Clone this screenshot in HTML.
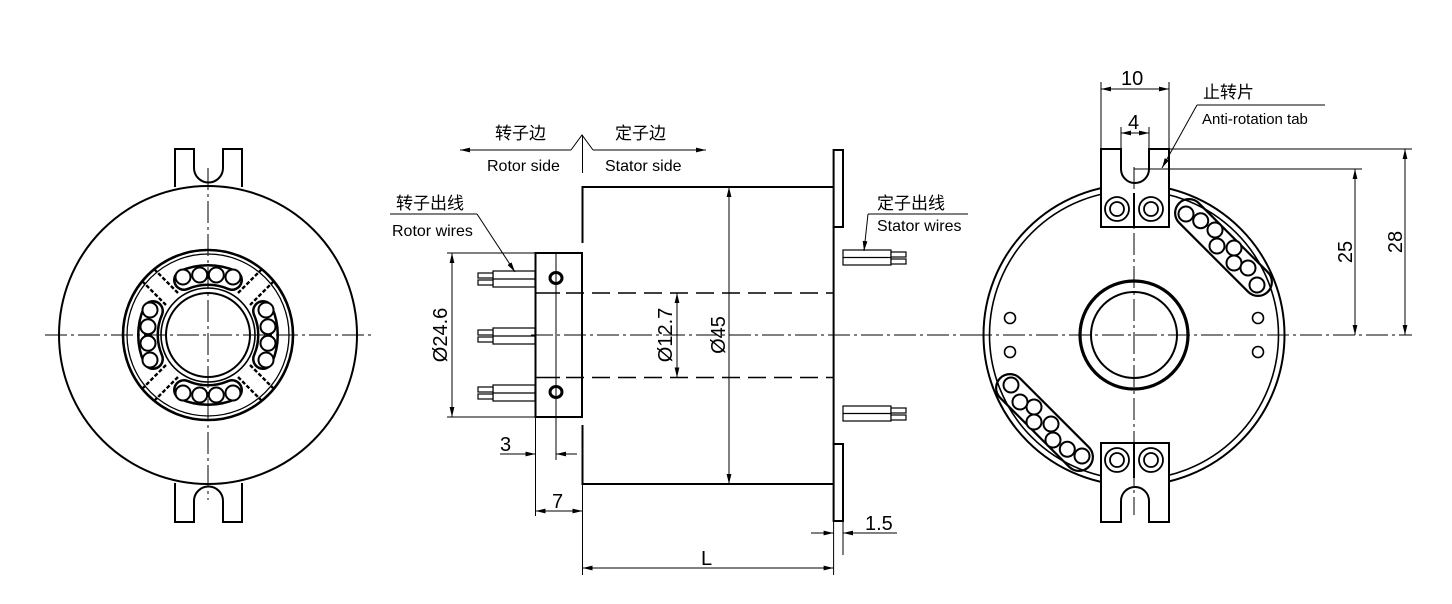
<!DOCTYPE html>
<html><head><meta charset="utf-8"><style>
html,body{margin:0;padding:0;background:#fff}
svg{display:block}
text{font-family:"Liberation Sans","Noto Sans CJK SC",sans-serif;fill:#000}
</style></head><body>
<svg width="1452" height="604" viewBox="0 0 1452 604" xmlns="http://www.w3.org/2000/svg">
<defs>
<marker id="a" viewBox="0 0 10 6" refX="10" refY="3" markerWidth="10" markerHeight="6" orient="auto-start-reverse" markerUnits="userSpaceOnUse"><path d="M0,0.6 L10,3 L0,5.4 z" fill="#000"/></marker>
</defs>
<g fill="none" stroke="#000">

<!-- ============ LEFT VIEW ============ -->
<g stroke-width="2">
<path d="M175,187 V149 H194 V168 A14.5,14.5 0 0 0 223,168 V149 H242 V187" fill="#fff"/>
<path d="M175,483 V522 H194 V501 A14.5,14.5 0 0 1 223,501 V522 H242 V483" fill="#fff"/>
<circle cx="208" cy="335" r="149" />
<circle cx="208" cy="335" r="85" stroke-width="2.6"/>
<circle cx="208" cy="335" r="81" stroke-width="1.3"/>
<circle cx="208" cy="335" r="47" stroke-width="1.6"/>
<circle cx="208" cy="335" r="42" stroke-width="2"/>
</g>
<g stroke-width="2.4" stroke-dasharray="4,2">
<g transform="translate(208,335)">
<g id="ds"><line x1="30" y1="-42" x2="55" y2="-67"/><line x1="42" y1="-30" x2="67" y2="-55"/></g>
<use href="#ds" transform="rotate(90)"/><use href="#ds" transform="rotate(180)"/><use href="#ds" transform="rotate(270)"/>
</g></g>
<g transform="translate(208,335)">
<g id="bs">
<path d="M-24,-55 A60,60 0 0 1 24,-55" stroke-width="22" stroke-linecap="round"/>
<path d="M-24,-55 A60,60 0 0 1 24,-55" stroke="#fff" stroke-width="17" stroke-linecap="round"/>
<g stroke-width="2" fill="#fff">
<circle cx="-25" cy="-58" r="7.5"/><circle cx="-8.3" cy="-60" r="7.5"/><circle cx="8.3" cy="-60" r="7.5"/><circle cx="25" cy="-58" r="7.5"/>
</g></g>
<use href="#bs" transform="rotate(90)"/><use href="#bs" transform="rotate(180)"/><use href="#bs" transform="rotate(270)"/>
</g>
<g stroke-width="1" stroke-dasharray="22,4,3,4">
<line x1="45" y1="335" x2="372" y2="335"/>
<line x1="208" y1="168" x2="208" y2="500"/>
</g>

<!-- ============ MIDDLE VIEW ============ -->
<g stroke-width="2">
<path d="M582.5,243 V187 H833.6"/>
<path d="M582.5,425 V484 H833.6"/>
<rect x="833.6" y="150" width="9.4" height="77" fill="#fff"/>
<rect x="833.6" y="444" width="9.4" height="77" fill="#fff"/>
<line x1="833.6" y1="227" x2="833.6" y2="444"/>
<rect x="535.5" y="253" width="46.5" height="164"/>
</g>
<g stroke-width="1.4">
<line x1="535.5" y1="293" x2="560" y2="293"/><line x1="535.5" y1="377.5" x2="560" y2="377.5"/>
</g>
<g stroke-width="1.4" stroke-dasharray="18,8">
<line x1="566" y1="293" x2="833" y2="293"/><line x1="566" y1="377.5" x2="833" y2="377.5"/>
</g>
<g stroke-width="3"><ellipse cx="556" cy="278" rx="6" ry="5.5"/><ellipse cx="556" cy="392" rx="6" ry="5.5"/></g>
<line x1="556" y1="253" x2="556" y2="460" stroke-width="1"/>
<g stroke-width="1.2" fill="#fff">
<g id="rw">
<rect x="493" y="271" width="42" height="16"/><line x1="493" y1="279" x2="535" y2="279"/>
<rect x="478" y="273" width="15" height="5"/><rect x="478" y="280" width="15" height="5"/>
</g>
<use href="#rw" transform="translate(0,57)"/><use href="#rw" transform="translate(0,114)"/>
<g id="sw">
<rect x="843" y="250" width="48" height="15"/><line x1="843" y1="257.5" x2="891" y2="257.5"/>
<rect x="891" y="252" width="15" height="5"/><rect x="891" y="259" width="15" height="5"/>
</g>
<use href="#sw" transform="translate(0,156)"/>
</g>
<line x1="531" y1="335" x2="981" y2="335" stroke-width="1" stroke-dasharray="22,4,3,4"/>
<g stroke-width="1">
<line x1="447" y1="253" x2="535" y2="253"/><line x1="447" y1="417" x2="535" y2="417"/>
<line x1="452" y1="253" x2="452" y2="417" marker-start="url(#a)" marker-end="url(#a)"/>
<line x1="677" y1="293" x2="677" y2="377.5" marker-start="url(#a)" marker-end="url(#a)"/>
<line x1="729" y1="187" x2="729" y2="484" marker-start="url(#a)" marker-end="url(#a)"/>
<line x1="535.5" y1="417" x2="535.5" y2="516"/>
<line x1="582.5" y1="484" x2="582.5" y2="575"/>
<line x1="500" y1="454" x2="535.5" y2="454" marker-end="url(#a)"/>
<line x1="577" y1="454" x2="556" y2="454" marker-end="url(#a)"/>
<line x1="535.5" y1="511" x2="582.5" y2="511" marker-start="url(#a)" marker-end="url(#a)"/>
<line x1="833.6" y1="521" x2="833.6" y2="575"/><line x1="843" y1="521" x2="843" y2="555"/>
<line x1="811" y1="533" x2="833.6" y2="533" marker-end="url(#a)"/>
<line x1="897" y1="533" x2="843" y2="533" marker-end="url(#a)"/>
<line x1="582.5" y1="568" x2="833.6" y2="568" marker-start="url(#a)" marker-end="url(#a)"/>
<path d="M571,150 L582,135 L593,150"/>
<line x1="571" y1="150" x2="460" y2="150" marker-end="url(#a)"/>
<line x1="593" y1="150" x2="706" y2="150" marker-end="url(#a)"/>
<line x1="582.5" y1="135" x2="582.5" y2="173"/>
<line x1="390" y1="214" x2="477" y2="214"/>
<line x1="477" y1="214" x2="515" y2="272" marker-end="url(#a)"/>
<line x1="868" y1="214" x2="968" y2="214"/>
<line x1="868" y1="214" x2="864" y2="251" marker-end="url(#a)"/>
</g>

<!-- ============ RIGHT VIEW ============ -->
<g id="grp">
<line x1="1189" y1="213" x2="1258" y2="282" stroke-width="30" stroke-linecap="round"/>
<line x1="1189" y1="213" x2="1258" y2="282" stroke="#fff" stroke-width="25.6" stroke-linecap="round"/>
<g stroke-width="2" fill="#fff">
<circle cx="1186" cy="214" r="7.5"/><circle cx="1200.7" cy="220.7" r="7.5"/><circle cx="1215" cy="230" r="7.5"/>
<circle cx="1217" cy="246" r="7.5"/><circle cx="1234" cy="248" r="7.5"/><circle cx="1234" cy="263" r="7.5"/>
<circle cx="1248" cy="268" r="7.5"/><circle cx="1257" cy="285" r="7.5"/>
</g></g>
<use href="#grp" transform="rotate(180,1134,335)"/>
<g stroke-width="2">
<circle cx="1134" cy="335" r="150.5"/>
<circle cx="1134" cy="335" r="144.5" stroke-width="1.6"/>
<circle cx="1134" cy="335" r="54" stroke-width="3.2"/>
<circle cx="1134" cy="335" r="43" stroke-width="2"/>
<path d="M1101,227 V149 H1121 V169 A14,14 0 0 0 1149,169 V149 H1169 V227 Z" fill="#fff"/>
<path d="M1101,443 V522 H1121 V501 A14,14 0 0 1 1149,501 V522 H1169 V443 Z" fill="#fff"/>
<line x1="1134" y1="193" x2="1134" y2="227"/><line x1="1134" y1="443" x2="1134" y2="478"/>
<g stroke-width="1.8">
<circle cx="1117" cy="209" r="12"/><circle cx="1117" cy="209" r="7"/>
<circle cx="1151" cy="209" r="12"/><circle cx="1151" cy="209" r="7"/>
<circle cx="1117" cy="460" r="12"/><circle cx="1117" cy="460" r="7"/>
<circle cx="1151" cy="460" r="12"/><circle cx="1151" cy="460" r="7"/>
</g>
<g stroke-width="1.6">
<circle cx="1010" cy="318" r="5.5"/><circle cx="1258" cy="318" r="5.5"/>
<circle cx="1010" cy="352" r="5.5"/><circle cx="1258" cy="352" r="5.5"/>
</g>
</g>
<g stroke-width="1" stroke-dasharray="22,4,3,4">
<line x1="970" y1="335" x2="1412" y2="335"/>
<line x1="1134" y1="167" x2="1134" y2="515"/>
</g>
<g stroke-width="1">
<line x1="1101" y1="149" x2="1101" y2="82"/><line x1="1169" y1="149" x2="1169" y2="82"/>
<line x1="1101" y1="89" x2="1169" y2="89" marker-start="url(#a)" marker-end="url(#a)"/>
<line x1="1121" y1="149" x2="1121" y2="127"/><line x1="1149" y1="149" x2="1149" y2="127"/>
<line x1="1121" y1="133" x2="1149" y2="133" marker-start="url(#a)" marker-end="url(#a)"/>
<line x1="1169" y1="149" x2="1412" y2="149"/>
<line x1="1134" y1="169" x2="1362" y2="169"/>
<line x1="1355" y1="169" x2="1355" y2="335" marker-start="url(#a)" marker-end="url(#a)"/>
<line x1="1405" y1="149" x2="1405" y2="335" marker-start="url(#a)" marker-end="url(#a)"/>
<line x1="1197" y1="105" x2="1325" y2="105"/>
<line x1="1197" y1="105" x2="1162" y2="168" marker-end="url(#a)"/>
</g>
</g>

<g font-size="17">
<text x="495" y="139">转子边</text>
<text x="615" y="139">定子边</text>
<text x="487" y="171" font-size="16">Rotor side</text>
<text x="605" y="171" font-size="16">Stator side</text>
<text x="396" y="209">转子出线</text>
<text x="392" y="236" font-size="16">Rotor wires</text>
<text x="877" y="209">定子出线</text>
<text x="877" y="231" font-size="16">Stator wires</text>
<text x="1203" y="98">止转片</text>
<text x="1202" y="124" font-size="15">Anti-rotation tab</text>
</g>
<g font-size="20">
<text transform="translate(447,335) rotate(-90)" text-anchor="middle">Ø24.6</text>
<text transform="translate(672,335) rotate(-90)" text-anchor="middle">Ø12.7</text>
<text transform="translate(725,335) rotate(-90)" text-anchor="middle">Ø45</text>
<text x="500" y="451">3</text>
<text x="552" y="508">7</text>
<text x="865" y="530">1.5</text>
<text x="701" y="565">L</text>
<text x="1121" y="85">10</text>
<text x="1128" y="129">4</text>
<text transform="translate(1352,252) rotate(-90)" text-anchor="middle">25</text>
<text transform="translate(1402,242) rotate(-90)" text-anchor="middle">28</text>
</g>
</svg>
</body></html>
